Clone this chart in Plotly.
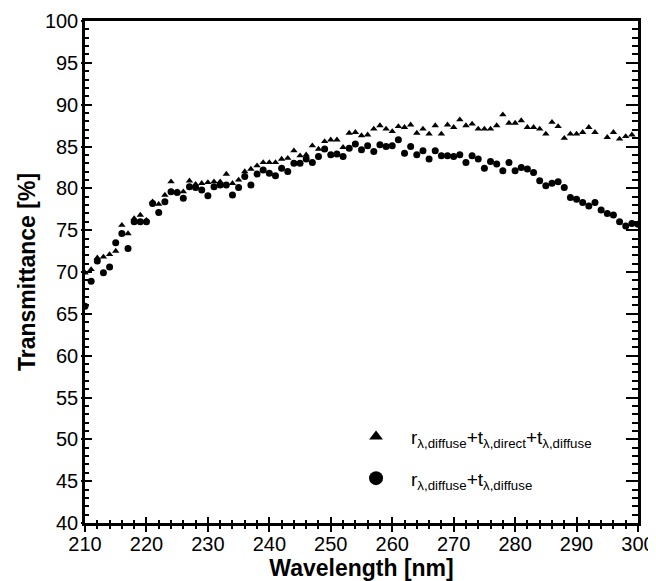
import plotly.graph_objects as go

wavelength = list(range(210, 301))

# r_diffuse + t_direct + t_diffuse (triangles); None = not visible
tri_values = [
    69.9, 70.3, 71.7, 71.8, 72.1, 72.5, 75.6, 74.6, 76.4, 76.8,
    76.2, 78.4, 78.1, 79.2, 80.8, 79.6, 79.6, 80.9, 80.5, 80.6,
    80.7, 80.8, 80.8, 81.7, 80.6, 81.0, 82.0, 82.3, 82.7, 83.1,
    83.1, 83.1, 83.5, 83.6, 84.5, 83.9, 84.0, 85.1, 84.7, 85.6,
    85.8, 85.8, 84.9, 86.6, 86.7, 86.3, 86.4, 87.1, 87.5, 87.1,
    86.8, 87.4, 87.3, 87.6, 86.6, 87.1, 86.5, 87.5, 86.5, 87.6,
    87.3, 88.2, 87.5, 87.7, 87.1, 87.1, 87.1, 87.5, 88.8, 87.8,
    87.8, 88.1, 87.3, 87.3, 87.1, 86.5, 87.9, 87.4, 86.0, 86.5,
    86.5, 86.7, 87.3, 86.7, None, 86.1, 86.7, 85.9, 86.2, 86.4,
    None,
]

# r_diffuse + t_diffuse (circles)
cir_values = [
    65.9, 68.9, 71.3, 69.9, 70.6, 73.5, 74.6, 72.8, 76.0, 76.0,
    76.0, 78.2, 77.1, 78.4, 79.6, 79.5, 78.8, 80.2, 80.1, 79.8,
    79.1, 80.2, 80.4, 80.4, 79.2, 80.1, 81.4, 80.4, 81.7, 82.2,
    81.8, 81.5, 82.4, 82.0, 83.0, 83.0, 83.5, 83.1, 83.8, 84.7,
    84.0, 84.1, 83.8, 84.8, 85.3, 84.6, 85.1, 84.4, 85.2, 85.0,
    85.1, 85.8, 84.2, 85.0, 84.0, 84.5, 83.5, 84.5, 83.9, 83.9,
    83.8, 84.0, 83.1, 83.9, 83.5, 82.4, 83.2, 82.9, 82.1, 83.1,
    82.1, 82.5, 82.3, 81.9, 80.9, 80.3, 80.6, 80.8, 80.1, 78.9,
    78.7, 78.3, 77.9, 78.3, 77.4, 77.0, 76.8, 76.0, 75.5, 75.8,
    75.7,
]

x_tickvals = list(range(210, 301, 10))
y_tickvals = list(range(40, 101, 5))

tri_name = "r<sub>λ,diffuse</sub>+t<sub>λ,direct</sub>+t<sub>λ,diffuse</sub>"
cir_name = "r<sub>λ,diffuse</sub>+t<sub>λ,diffuse</sub>"

FONT = "Liberation Sans, Arial, Helvetica, sans-serif"

fig = go.Figure()

fig.add_trace(go.Scatter(
    x=wavelength, y=tri_values, mode="markers", showlegend=False,
    marker=dict(symbol="triangle-up", size=6.5, color="black"),
))
fig.add_trace(go.Scatter(
    x=wavelength, y=cir_values, mode="markers", showlegend=False,
    marker=dict(symbol="circle", size=7, color="black"),
))
# legend entries (bigger symbols, as in the original legend)
fig.add_trace(go.Scatter(
    x=[None], y=[None], mode="markers", name=tri_name, legend="legend",
    marker=dict(symbol="triangle-up", size=12, color="black"),
))
fig.add_trace(go.Scatter(
    x=[None], y=[None], mode="markers", name=cir_name, legend="legend2",
    marker=dict(symbol="circle", size=14, color="black"),
))
# empty traces to carry the overlay axes (extra tick directions)
fig.add_trace(go.Scatter(x=[], y=[], xaxis="x2", yaxis="y2", showlegend=False, hoverinfo="skip"))
fig.add_trace(go.Scatter(x=[], y=[], xaxis="x", yaxis="y3", showlegend=False, hoverinfo="skip"))

legend_font = dict(family=FONT, size=19, color="black")

# the page body has an 8px default margin, so the figure is 8px smaller
fig.update_layout(
    width=648, height=573,
    margin=dict(l=77, r=18, t=13, b=58, autoexpand=False),
    paper_bgcolor="white", plot_bgcolor="white",
    font=dict(family=FONT, color="black"),
    xaxis=dict(
        range=[210, 300], tickvals=x_tickvals, showgrid=False, zeroline=False,
        showline=True, linecolor="black", linewidth=2.5, mirror=True, automargin=False,
        ticks="outside", ticklen=6, tickwidth=2, tickcolor="black",
        minor=dict(dtick=2, tick0=210, ticks="outside", ticklen=3, tickwidth=1.5, tickcolor="black"),
        tickfont=dict(size=20, family=FONT), ticklabelstandoff=-5,
        title=dict(text="<b>Wavelength [nm]</b>", font=dict(size=23, family=FONT), standoff=0),
    ),
    xaxis2=dict(
        overlaying="x", anchor="y", side="bottom", range=[210, 300], automargin=False,
        tickvals=x_tickvals, showticklabels=False, showgrid=False, zeroline=False,
        showline=False, ticks="inside", ticklen=6, tickwidth=2, tickcolor="black",
        minor=dict(dtick=2, tick0=210, ticks="inside", ticklen=3, tickwidth=1.5, tickcolor="black"),
    ),
    yaxis=dict(
        range=[40, 100], tickvals=y_tickvals, showgrid=False, zeroline=False,
        showline=True, linecolor="black", linewidth=2.5, automargin=False,
        ticks="inside", ticklen=7, tickwidth=2, tickcolor="black",
        minor=dict(dtick=1, tick0=40, ticks="inside", ticklen=4, tickwidth=1.5, tickcolor="black"),
        tickfont=dict(size=20, family=FONT), ticklabelstandoff=0,
        title=dict(text="<b>Transmittance [%]</b>", font=dict(size=23, family=FONT), standoff=3),
    ),
    yaxis2=dict(
        overlaying="y", anchor="x", side="left", range=[40, 100], automargin=False,
        tickvals=y_tickvals, showticklabels=False, showgrid=False, zeroline=False,
        showline=False, ticks="outside", ticklen=3, tickwidth=2, tickcolor="black",
        minor=dict(dtick=1, tick0=40, ticks="outside", ticklen=2, tickwidth=1.5, tickcolor="black"),
    ),
    yaxis3=dict(
        overlaying="y", anchor="x", side="right", range=[40, 100], automargin=False,
        tickvals=y_tickvals, showticklabels=False, showgrid=False, zeroline=False,
        showline=True, linecolor="black", linewidth=2.5,
        ticks="inside", ticklen=12, tickwidth=2, tickcolor="black",
        minor=dict(dtick=1, tick0=40, ticks="inside", ticklen=6, tickwidth=1.5, tickcolor="black"),
    ),
    legend=dict(
        x=0.463, y=0.172, xanchor="left", yanchor="middle", itemwidth=60,
        bgcolor="rgba(0,0,0,0)", font=legend_font, itemsizing="trace",
    ),
    legend2=dict(
        x=0.463, y=0.089, xanchor="left", yanchor="middle", itemwidth=60,
        bgcolor="rgba(0,0,0,0)", font=legend_font, itemsizing="trace",
    ),
)

fig.write_html("out.html")
